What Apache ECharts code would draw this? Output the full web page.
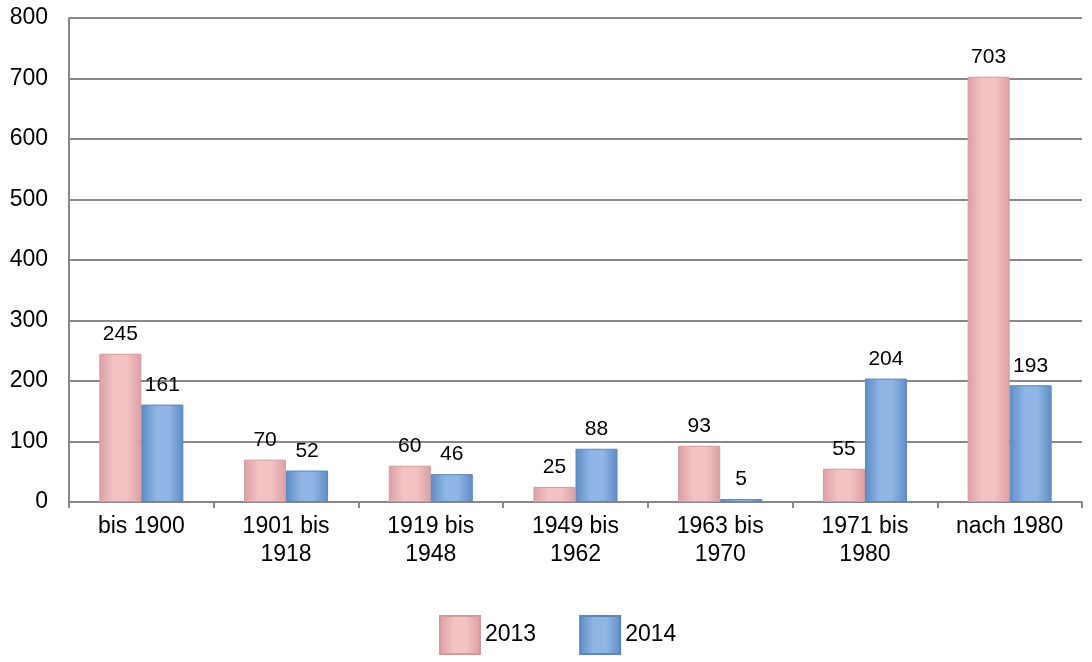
<!DOCTYPE html>
<html lang="de">
<head>
    <meta charset="UTF-8">
    <title>Chart</title>
    <style>
        html, body { margin: 0; padding: 0; background: #fff; }
        #main { width: 1092px; height: 662px; }
    </style>
</head>
<body>
<div id="main"></div>
<script src="https://cdn.jsdelivr.net/npm/echarts@6/dist/echarts.min.js"></script>
<script>
    var categories = ['bis 1900', '1901 bis\n1918', '1919 bis\n1948', '1949 bis\n1962', '1963 bis\n1970', '1971 bis\n1980', 'nach 1980'];
    var values2013 = [245, 70, 60, 25, 93, 55, 703];
    var values2014 = [161, 52, 46, 88, 5, 204, 193];
    var yTicks = {min: 0, max: 800, interval: 100};

    // horizontal gradient to get the little 3d look of the original bars
    function barColor(edge, mid) {
        return new echarts.graphic.LinearGradient(0, 0, 1, 0, [
            {offset: 0, color: edge},
            {offset: 0.35, color: mid},
            {offset: 0.65, color: mid},
            {offset: 1, color: edge}
        ]);
    }
    var pink = barColor('#dc9fa3', '#f3c3c4');
    var blue = barColor('#5e8cc6', '#8fb5e4');

    var chart = echarts.init(document.getElementById('main'));
    chart.setOption({
        animation: false,
        textStyle: {fontFamily: 'Liberation Sans, Arial, sans-serif'},
        grid: {left: 69, right: 10, top: 18, bottom: 160},
        legend: {
            bottom: 2,
            left: 434,
            itemWidth: 40,
            itemHeight: 38,
            itemGap: 43,
            icon: 'rect',
            textStyle: {fontSize: 23, color: '#000'},
            data: ['2013', '2014']
        },
        xAxis: {
            type: 'category',
            data: categories,
            axisLine: {lineStyle: {color: '#888', width: 2}},
            axisTick: {show: true, length: 6, lineStyle: {color: '#888', width: 2}},
            axisLabel: {fontSize: 23, color: '#000', margin: 11, lineHeight: 28}
        },
        yAxis: {
            type: 'value',
            min: yTicks.min,
            max: yTicks.max,
            interval: yTicks.interval,
            axisLine: {show: true, lineStyle: {color: '#888', width: 2}},
            axisTick: {show: false},
            splitLine: {lineStyle: {color: '#888', width: 2}},
            axisLabel: {fontSize: 23, color: '#000', margin: 21}
        },
        series: [
            {
                name: '2013',
                type: 'bar',
                data: values2013,
                barWidth: 42,
                barGap: '0%',
                itemStyle: {color: pink, borderColor: '#d39a9c', borderWidth: 1},
                label: {show: true, position: 'top', fontSize: 21, color: '#000', distance: 9}
            },
            {
                name: '2014',
                type: 'bar',
                data: values2014,
                barWidth: 42,
                itemStyle: {color: blue, borderColor: '#5a86bd', borderWidth: 1},
                label: {show: true, position: 'top', fontSize: 21, color: '#000', distance: 9}
            }
        ]
    });
</script>
</body>
</html>
